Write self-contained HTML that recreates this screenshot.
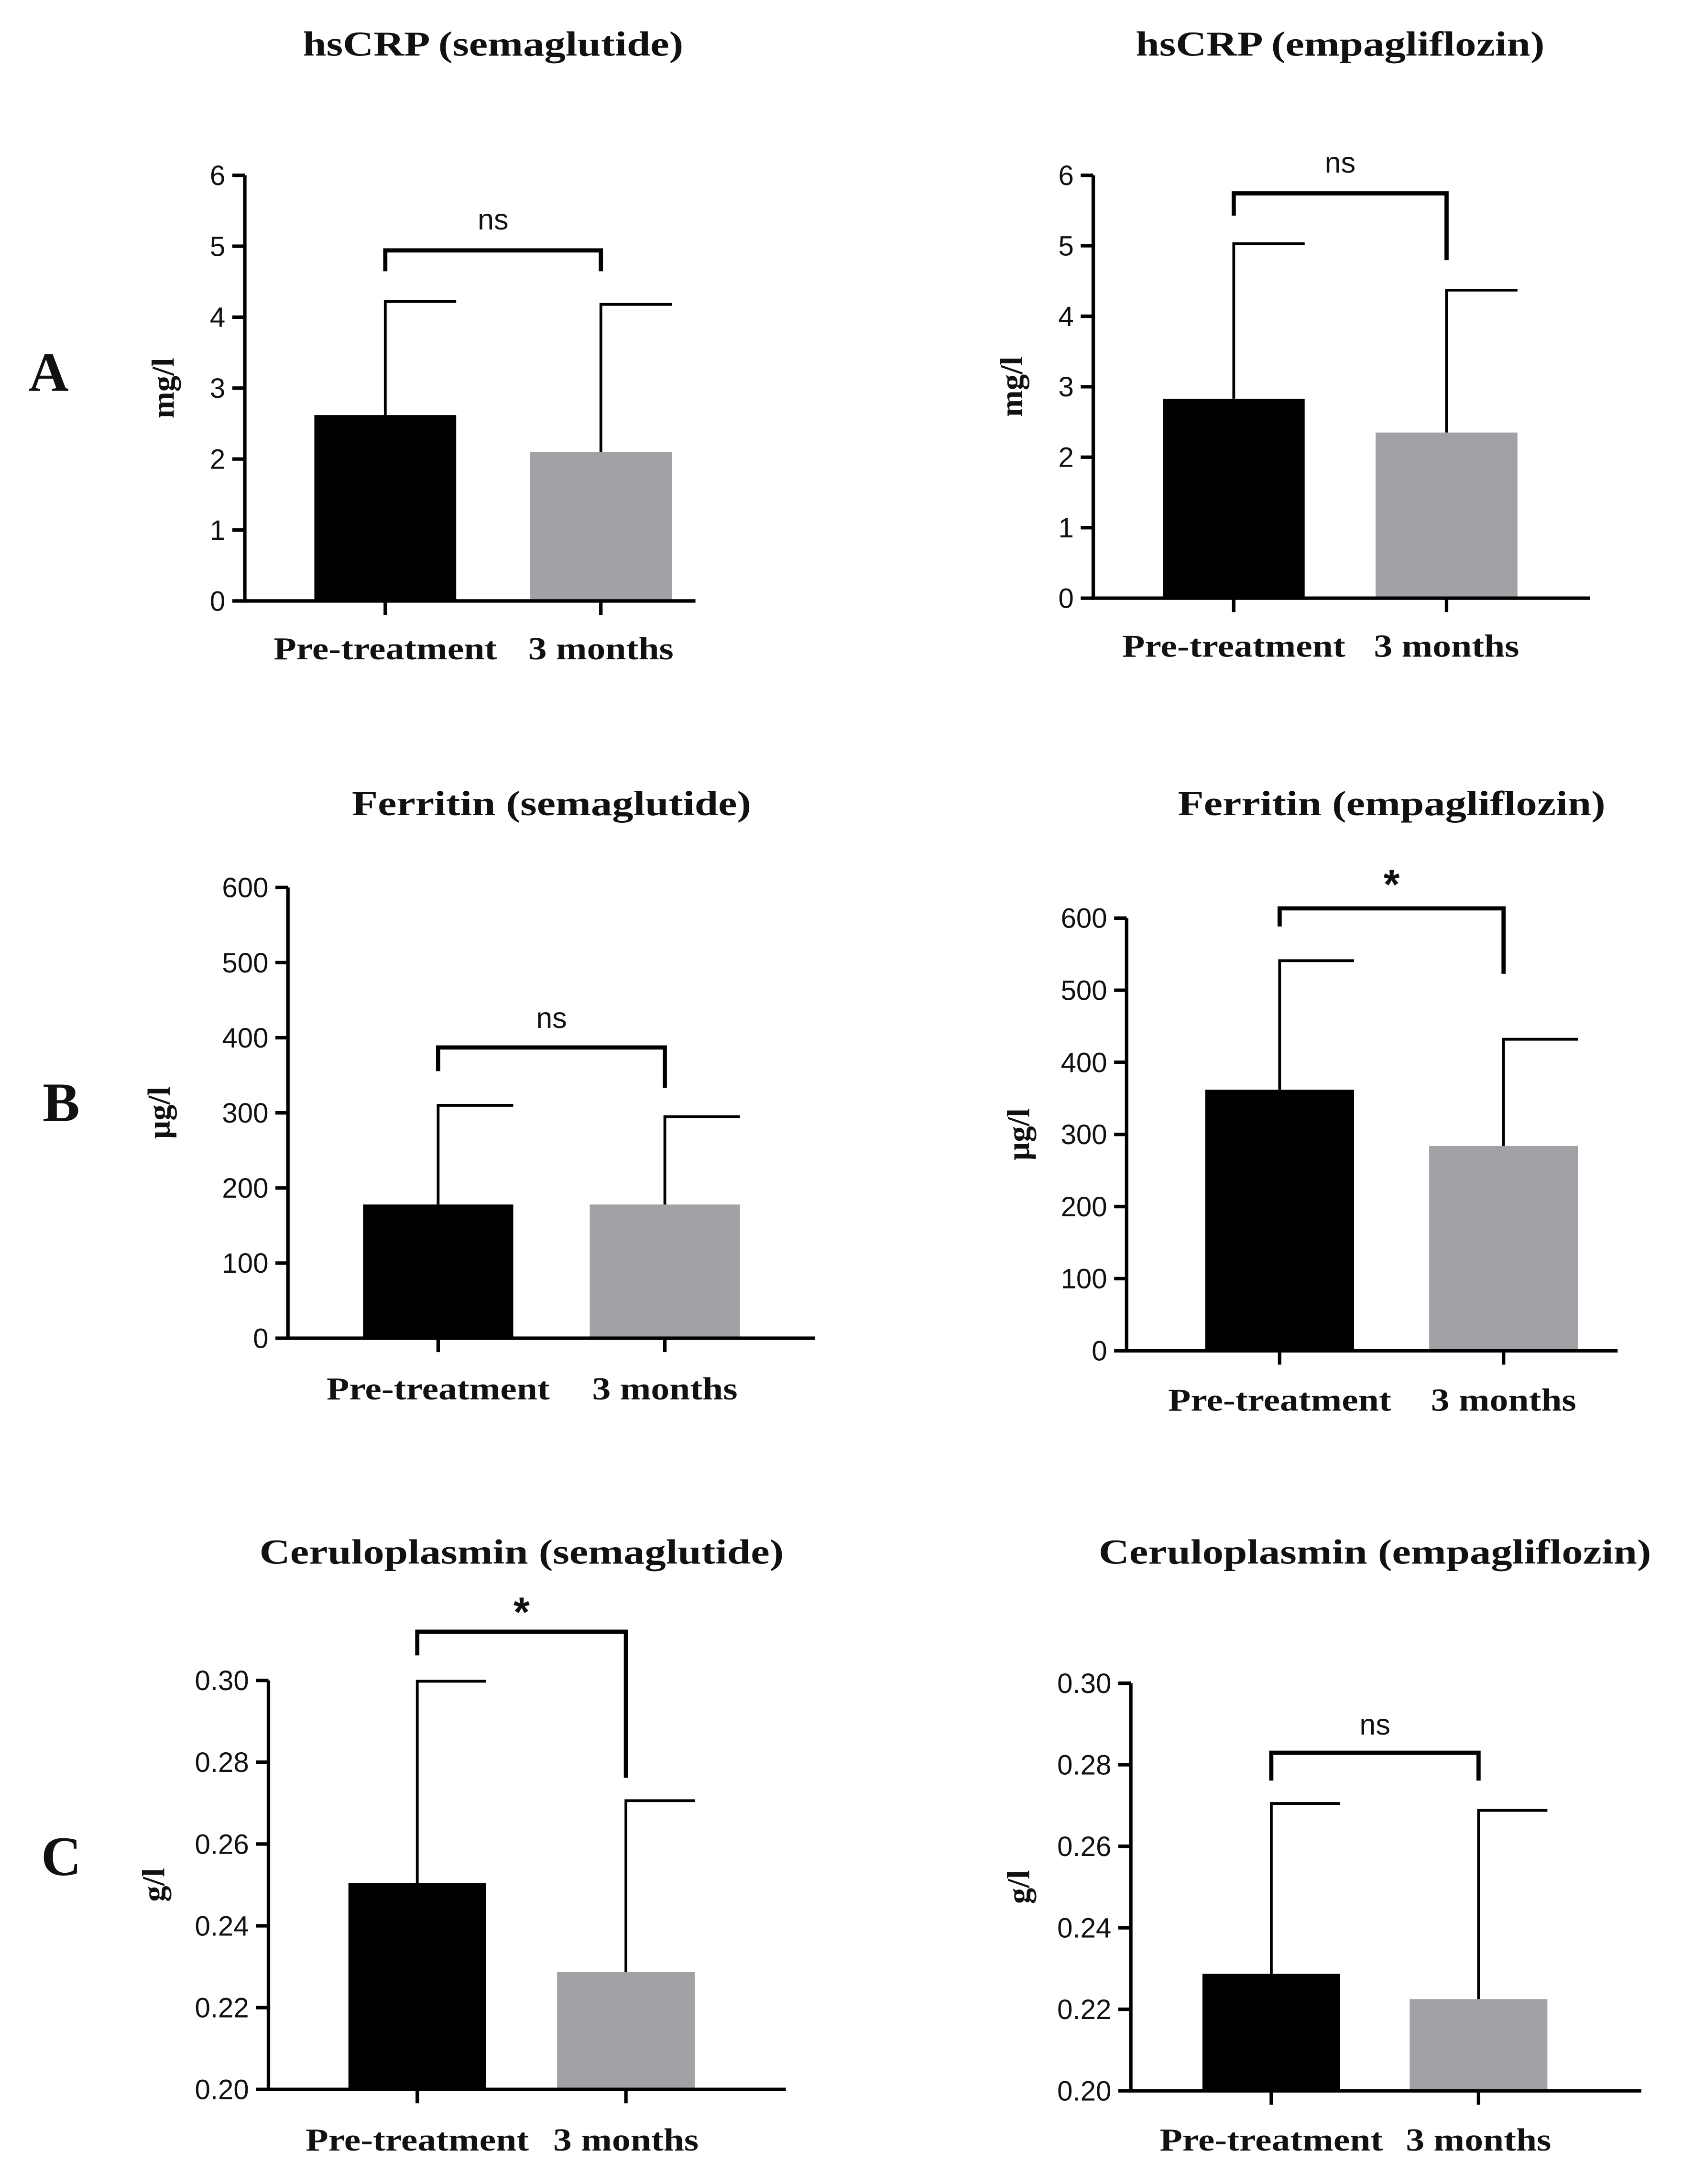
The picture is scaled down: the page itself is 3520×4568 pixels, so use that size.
<!DOCTYPE html>
<html><head><meta charset="utf-8"><style>
html,body{margin:0;padding:0;background:#fff}
svg{display:block}
.t{font-family:"Liberation Serif",serif;font-weight:bold;fill:#111}
.s{font-family:"Liberation Sans",sans-serif;fill:#111}
</style></head><body>
<svg id="fig" width="3520" height="4568" viewBox="0 0 1210 1570" preserveAspectRatio="none" xmlns="http://www.w3.org/2000/svg">
<text class="t" x="35" y="281" font-size="40" text-anchor="middle">A</text>
<text class="t" x="44" y="806" font-size="40" text-anchor="middle">B</text>
<text class="t" x="44" y="1348" font-size="40" text-anchor="middle">C</text>
</svg>
<script>
const categories = ["Pre-treatment", "3 months"];
const titles = ["hsCRP (semaglutide)","hsCRP (empagliflozin)","Ferritin (semaglutide)","Ferritin (empagliflozin)","Ceruloplasmin (semaglutide)","Ceruloplasmin (empagliflozin)"];
const units = ["mg/l","mg/l","µg/l","µg/l","g/l","g/l"];
const means = [[2.62,2.10],[2.83,2.35],[178,178],[362,284],[0.2505,0.2287],[0.2287,0.2225]];
const sds = [[4.22,4.18],[5.03,4.37],[310,295],[541,432],[0.2998,0.2706],[0.2705,0.2688]];
const sig = ["ns","ns","ns","*","*","ns"];
const tickLabels = [["0","1","2","3","4","5","6"],["0","1","2","3","4","5","6"],["0","100","200","300","400","500","600"],["0","100","200","300","400","500","600"],["0.20","0.22","0.24","0.26","0.28","0.30"],["0.20","0.22","0.24","0.26","0.28","0.30"]];
// layout only
const L = [
 {ax:176,y0:432,y1:126,xe:500,c:[277,432],bw:102,ty:32,ly:466,by:180,leg:[195,195],sy:158,yo:51},
 {ax:786,y0:430,y1:126,xe:1143,c:[887,1040],bw:102,ty:32,ly:464,by:139,leg:[155,187],sy:117,yo:51},
 {ax:207,y0:962,y1:638,xe:586,c:[315,478],bw:108,ty:578,ly:998,by:753,leg:[770,782],sy:732,yo:85},
 {ax:810,y0:971,y1:660,xe:1163,c:[920,1081],bw:107,ty:578,ly:1006,by:653,leg:[666,700],sy:632,yo:70},
 {ax:193,y0:1502,y1:1208,xe:565,c:[300,450],bw:99,ty:1116,ly:1538,by:1173,leg:[1190,1278],sy:1155,yo:75},
 {ax:813,y0:1503,y1:1210,xe:1180,c:[914,1063],bw:99,ty:1116,ly:1538,by:1260,leg:[1280,1280],sy:1240,yo:73}];
const NS="http://www.w3.org/2000/svg", svg=document.getElementById("fig");
function mk(tag,a,p){const e=document.createElementNS(NS,tag);for(const k in a)e.setAttribute(k,a[k]);(p||svg).appendChild(e);return e;}
function stretch(e,f){const w=e.getComputedTextLength();e.setAttribute("textLength",w*f);e.setAttribute("lengthAdjust","spacingAndGlyphs");}
const colors=["#000","#a2a1a6"];
titles.forEach((title,i)=>{
 const l=L[i], tl=tickLabels[i];
 const vmin=+tl[0], vmax=+tl[tl.length-1];
 const y=v=>l.y0+(v-vmin)/(vmax-vmin)*(l.y1-l.y0);
 const g=mk("g",{});
 
 
 const cx=(l.c[0]+l.c[1])/2;
 const t=mk("text",{class:"t",x:cx,y:l.ty+8,"font-size":25,"text-anchor":"middle"},g);t.textContent=title;
 
 
 stretch(t,1.22);
 const yl=mk("text",{class:"t",x:0,y:0,"font-size":23,"text-anchor":"middle",transform:`translate(${l.ax-l.yo},${(l.y0+l.y1)/2}) rotate(-90)`},g);yl.textContent=units[i];
 
 
 for(let k=0;k<2;k++){
  const top=y(means[i][k]);
  const b=mk("rect",{x:l.c[k]-l.bw/2,y:top,width:l.bw,height:l.y0-top,fill:colors[k]},g);
  
  
  const ey=y(sds[i][k]);
  const e=mk("path",{d:`M${l.c[k]} ${top}V${ey}H${l.c[k]+l.bw/2}`,stroke:"#000","stroke-width":2,fill:"none"},g);
  
  
  const xt=mk("line",{x1:l.c[k],x2:l.c[k],y1:l.y0,y2:l.y0+10,stroke:"#000","stroke-width":2.5},g);
  
  
  const lab=mk("text",{class:"t",x:l.c[k],y:l.ly+8,"font-size":23,"text-anchor":"middle"},g);lab.textContent=categories[k];
  
  
  stretch(lab,1.16);
 }
 const ax=mk("path",{d:`M${l.ax} ${l.y1}V${l.y0}H${l.xe}`,stroke:"#000","stroke-width":2.5,fill:"none"},g);
 
 
 tl.forEach(s=>{
  const yy=y(+s);
  const tk=mk("line",{x1:l.ax-9,x2:l.ax,y1:yy,y2:yy,stroke:"#000","stroke-width":2.5},g);
  
  
  const tx=mk("text",{class:"s",x:l.ax-14,y:yy+7,"font-size":20,"text-anchor":"end"},g);tx.textContent=s;
  
  
 });
 const br=mk("path",{d:`M${l.c[0]} ${l.leg[0]}V${l.by}H${l.c[1]}V${l.leg[1]}`,stroke:"#000","stroke-width":3,fill:"none"},g);
 
 
 const st=mk("text",{class:"s",x:cx,y:sig[i]=="*"?l.sy+14:l.sy+7,"font-size":sig[i]=="*"?30:21,"font-weight":sig[i]=="*"?"bold":"normal","text-anchor":"middle"},g);st.textContent=sig[i];
 
 
});
</script>
</body></html>
